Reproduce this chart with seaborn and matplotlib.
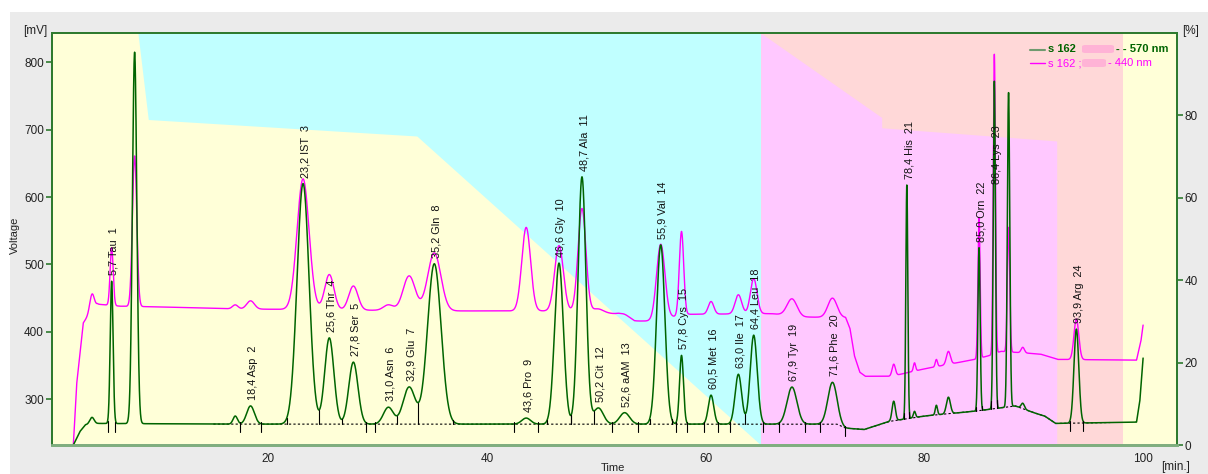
import numpy as np
import pandas as pd
import matplotlib
matplotlib.use("Agg")
import matplotlib.pyplot as plt
from matplotlib.patches import Rectangle, FancyBboxPatch
import seaborn as sns

# ---- data ----
# 570 nm channel (green): retention time [min], apex [mV], peak sigma [min]
green_rt = [3.9, 5.7, 7.8, 17.0, 18.4, 23.2, 25.6, 27.8, 31.0, 32.9, 35.2, 43.6, 46.6,
            48.7, 50.2, 52.6, 55.9, 57.8, 60.5, 63.0, 64.4, 67.9, 71.6, 77.2, 78.4,
            79.1, 81.1, 82.2, 85.0, 86.4, 87.7, 89.0, 93.9]
green_apex = [273, 475, 815, 275, 290, 620, 391, 355, 288, 318, 501, 272, 502,
              630, 287, 280, 529, 365, 306, 337, 395, 318, 325, 297, 618,
              282, 291, 303, 525, 772, 755, 294, 404]
green_sigma = [0.2, 0.13, 0.2, 0.2, 0.35, 0.55, 0.42, 0.42, 0.45, 0.55, 0.62, 0.4, 0.4,
               0.36, 0.45, 0.45, 0.38, 0.18, 0.25, 0.3, 0.32, 0.45, 0.42, 0.15, 0.09,
               0.1, 0.1, 0.18, 0.1, 0.1, 0.11, 0.15, 0.22]
green_base_t = [2.0, 2.2, 2.5, 2.8, 3.3, 4.5, 16.0, 66.0, 72.0, 72.8, 74.5, 76.8, 80.0,
                84.5, 86.0, 88.3, 90.0, 91.0, 92.0, 99.4, 99.7, 100.0]
green_base_v = [180, 232, 242, 252, 262, 264, 263, 263, 263, 257, 255, 267, 275,
                282, 285, 290, 280, 275, 264, 266, 297, 361]

# 440 nm channel (magenta)
mag_rt = [3.9, 5.7, 7.8, 17.0, 18.4, 23.2, 25.6, 27.8, 31.0, 32.9, 35.2, 43.6, 46.6,
          48.7, 50.2, 52.6, 55.9, 57.8, 60.5, 63.0, 64.4, 67.9, 71.6, 77.2,
          79.1, 81.1, 82.2, 85.0, 86.4, 87.7, 89.0, 93.9]
mag_apex = [456, 525, 661, 440, 446, 627, 485, 468, 440, 483, 517, 555, 528,
            583, 434, 426, 530, 549, 445, 455, 479, 449, 450, 352,
            354, 359, 371, 570, 812, 555, 377, 419]
mag_sigma = [0.2, 0.14, 0.2, 0.25, 0.35, 0.55, 0.42, 0.42, 0.45, 0.55, 0.6, 0.4, 0.4,
             0.36, 0.45, 0.45, 0.38, 0.2, 0.25, 0.3, 0.3, 0.45, 0.42, 0.15,
             0.1, 0.1, 0.18, 0.1, 0.1, 0.11, 0.15, 0.22]
mag_base_t = [2.0, 2.2, 2.5, 3.1, 3.6, 4.4, 6.5, 10.0, 17.0, 36.0, 45.0, 50.0, 52.0,
              53.5, 55.0, 57.0, 58.5, 66.0, 69.0, 72.8, 73.2, 73.6, 74.1, 74.6, 77.0,
              80.0, 84.6, 86.0, 87.0, 90.6, 92.2, 99.4, 99.8, 100.0]
mag_base_v = [180, 232, 322, 413, 425, 441, 438, 437, 434, 431, 431, 430, 426,
              416, 416, 422, 426, 427, 422, 421, 405, 365, 340, 334, 334,
              345, 359, 365, 371, 367, 359, 358, 386, 410]

# identified peaks
peak_rt = [5.7, 18.4, 23.2, 25.6, 27.8, 31.0, 32.9, 35.2, 43.6, 46.6, 48.7, 50.2,
           52.6, 55.9, 57.8, 60.5, 63.0, 64.4, 67.9, 71.6, 78.4, 85.0, 86.4, 93.9]
peak_name = ["Tau", "Asp", "IST", "Thr", "Ser", "Asn", "Glu", "Gln", "Pro", "Gly",
             "Ala", "Cit", "aAM", "Val", "Cys", "Met", "Ile", "Leu", "Tyr", "Phe",
             "His", "Orn", "Lys", "Arg"]

# eluent program (background bands, % on right axis)
yellow_t = [0, 8.1, 9.05, 33.6, 65.05]
yellow_pct = [100, 100, 79, 75, 0]
pink_t = [65.05, 76.1, 76.1, 92.1]
pink_pct = [100, 79.5, 77, 73.8]

GREEN = "#006400"
MAGENTA = "#ff00ff"
AXGREEN = "#2e7a2e"


def trace(t, base_t, base_v, rt, apex, sigma):
    y = np.interp(t, base_t, base_v)
    for r, a, s in zip(rt, apex, sigma):
        amp = a - np.interp(r, base_t, base_v)
        y = y + amp * np.exp(-0.5 * ((t - r) / s) ** 2)
    return y


t = np.linspace(2.0, 100.0, 12000)
df = pd.DataFrame({
    "time": t,
    "g": trace(t, green_base_t, green_base_v, green_rt, green_apex, green_sigma),
    "m": trace(t, mag_base_t, mag_base_v, mag_rt, mag_apex, mag_sigma),
})

sns.set_style("white")
plt.rcParams["font.family"] = ["Liberation Sans", "DejaVu Sans"]

W, H = 1208, 474
fig = plt.figure(figsize=(W / 100, H / 100), dpi=100)
fig.patches.append(Rectangle((10 / W, 0), 1, 1 - 12 / H, transform=fig.transFigure,
                             facecolor="#ebebeb", edgecolor="none", zorder=-10))

ax = fig.add_axes([51.7 / W, 1 - 445 / H, (1177 - 51.7) / W, (445 - 33) / H])
ax2 = ax.twinx()
ax.set_zorder(ax2.get_zorder() + 1)
ax.patch.set_visible(False)

# background bands
ax2.fill_between([0, 103.2], [0, 0], [100, 100], color="#ffffd8", lw=0)
ax2.fill_between(yellow_t, yellow_pct, 100, color="#c0ffff", lw=0)
ax2.fill_between([65.05, 98.2], [0, 0], [100, 100], color="#ffd8d8", lw=0)
ax2.fill_between(pink_t, 0, pink_pct, color="#ffc8ff", lw=0)
ax2.set_ylim(0, 100)
ax2.set_yticks([0, 20, 40, 60, 80])

# traces
sns.lineplot(data=df, x="time", y="m", ax=ax, color=MAGENTA, lw=1.0, estimator=None)
sns.lineplot(data=df, x="time", y="g", ax=ax, color=GREEN, lw=1.1, estimator=None)

# integration baseline + boundary ticks
gb = np.interp(t, green_base_t, green_base_v)
mask = (t > 15) & (t < 97)
ax.plot(t[mask], gb[mask], ls=(0, (2, 2)), color="black", lw=0.8, zorder=1)

bounds = []
for r in peak_rt:
    s = green_sigma[green_rt.index(r)]
    bounds.append([r - 2.7 * s, r + 2.7 * s])
for i in range(len(bounds) - 1):
    if bounds[i][1] > bounds[i + 1][0]:
        seg = (t > peak_rt[i]) & (t < peak_rt[i + 1])
        v = t[seg][np.argmin(df["g"].values[seg])]
        bounds[i][1] = v
        bounds[i + 1][0] = v
for b in sorted(set(x for pair in bounds for x in pair)):
    gv = np.interp(b, t, df["g"].values)
    bv = np.interp(b, green_base_t, green_base_v)
    if gv - bv > 6:
        ax.plot([b, b], [bv, gv], color="black", lw=0.8)
    else:
        ax.plot([b, b], [bv - 12, bv + 3], color="black", lw=0.8)

# peak labels
for i, (r, name) in enumerate(zip(peak_rt, peak_name), start=1):
    apex = green_apex[green_rt.index(r)]
    y = apex + 9 if apex < 700 else 620
    lab = f"{r:.1f}".replace(".", ",") + f" {name}  {i}"
    ax.text(r + 0.2, y, lab, rotation=90, ha="center", va="bottom",
            fontsize=7.8, color="#111111")

ax.set_xlim(0.22, 103.1)
ax.set_ylim(232, 843.5)
ax.set_xticks([20, 40, 60, 80, 100])
ax.set_yticks([300, 400, 500, 600, 700, 800])
ax.set_xlabel("")
ax.set_ylabel("")

for a in (ax, ax2):
    for sp in a.spines.values():
        sp.set_color(AXGREEN)
        sp.set_linewidth(1.3)
    a.spines["bottom"].set_color("#7fae7f")
    a.spines["bottom"].set_linewidth(2)
    a.tick_params(direction="out", length=4.5, width=1.2, color=AXGREEN,
                  labelsize=8.5, labelcolor="#222222", pad=1)

# legend
def fx(x):
    return x / W


def fy(y):
    return 1 - y / H


fig.add_artist(plt.Line2D([fx(1030), fx(1045)], [fy(49.5), fy(49.5)], color="#6f9a6f", lw=1.5))
fig.add_artist(plt.Line2D([fx(1030), fx(1045)], [fy(63), fy(63)], color=MAGENTA, lw=1.0))
for x0, x1, yc in [(1082, 1114, 49), (1082, 1106, 63)]:
    fig.patches.append(FancyBboxPatch((fx(x0), fy(yc + 4)), fx(x1 - x0), 8 / H,
                                      boxstyle="round,pad=0,rounding_size=0.003",
                                      transform=fig.transFigure, facecolor="#ffb3d6",
                                      edgecolor="none", zorder=5))
fig.text(fx(1048), fy(49.5), "s 162", fontsize=8, fontweight="bold", color=GREEN, va="center")
fig.text(fx(1116), fy(49.5), "- - 570 nm", fontsize=8, fontweight="bold", color=GREEN, va="center")
fig.text(fx(1048), fy(63), "s 162 ;", fontsize=8, color=MAGENTA, va="center")
fig.text(fx(1108), fy(63), "- 440 nm", fontsize=8, color=MAGENTA, va="center")

# axis captions
fig.text(fx(35), fy(31), "[mV]", fontsize=8.5, ha="center", va="center", color="#222222")
fig.text(fx(1191), fy(31), "[%]", fontsize=8.5, ha="center", va="center", color="#222222")
fig.text(fx(1176), fy(467), "[min.]", fontsize=8.5, ha="center", va="center", color="#222222")
fig.text(fx(613), fy(473), "Time", fontsize=8, ha="center", va="bottom", color="#222222")
fig.text(fx(15), fy(235), "Voltage", fontsize=8, ha="center", va="center",
         rotation=90, color="#222222")

fig.savefig("out.png", dpi=100)
